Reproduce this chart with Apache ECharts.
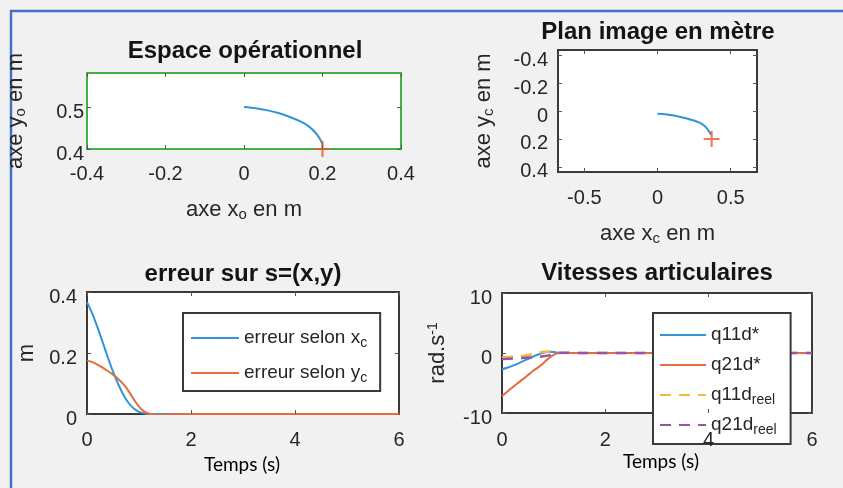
<!DOCTYPE html>
<html>
<head>
<meta charset="utf-8">
<script src="https://cdn.jsdelivr.net/npm/echarts@6/dist/echarts.min.js"></script>
<style>
html,body{margin:0;padding:0;background:#f1f1f1;}
#c{width:843px;height:488px;}
</style>
</head>
<body>
<div id="c"></div>
<script>
// ---------------- data ----------------
// Espace opérationnel : trajectory (x_o, y_o) and target
const xo = [0, 0.03, 0.06, 0.09, 0.12, 0.145, 0.165, 0.18, 0.19, 0.197, 0.2];
const yo = [0.5, 0.497, 0.492, 0.485, 0.475, 0.465, 0.454, 0.441, 0.429, 0.418, 0.41];
const targetO = [0.2, 0.4];
// Plan image en mètre : trajectory (x_c, y_c) and target
const xc = [0, 0.05, 0.1, 0.15, 0.2, 0.25, 0.29, 0.32, 0.34, 0.355, 0.365];
const yc = [0.02, 0.024, 0.031, 0.041, 0.053, 0.068, 0.085, 0.105, 0.127, 0.15, 0.17];
const targetC = [0.37, 0.2];
// time (s)
const t = [0, 0.1, 0.2, 0.3, 0.4, 0.5, 0.6, 0.7, 0.8, 0.9, 1.0, 1.1, 1.2, 1.3, 1.4, 1.5, 2, 3, 4, 5, 6];
// erreur sur s=(x,y)
const errX = [0.367, 0.33, 0.285, 0.236, 0.186, 0.139, 0.098, 0.063, 0.036, 0.018, 0.007, 0.002, 0, 0, 0, 0, 0, 0, 0, 0, 0];
const errY = [0.175, 0.170, 0.162, 0.152, 0.141, 0.129, 0.115, 0.098, 0.075, 0.048, 0.024, 0.008, 0.001, -0.002, -0.003, -0.002, 0, 0, 0, 0, 0];
// Vitesses articulaires
const q11dStar = [-2.7, -2.45, -2.15, -1.8, -1.4, -1.0, -0.6, -0.25, 0.05, 0.2, 0.15, 0.05, 0, 0, 0, 0, 0, 0, 0, 0, 0];
const q21dStar = [-7.2, -6.45, -5.75, -5.05, -4.4, -3.7, -3.0, -2.4, -1.7, -0.9, -0.3, 0, 0, 0, 0, 0, 0, 0, 0, 0, 0];
const q11dReel = [-0.7, -0.68, -0.64, -0.58, -0.48, -0.35, -0.18, 0.03, 0.2, 0.25, 0.2, 0.1, 0.05, 0.02, 0, 0, 0, 0, 0, 0, 0];
const q21dReel = [-1.0, -0.97, -0.93, -0.88, -0.82, -0.77, -0.72, -0.66, -0.56, -0.4, -0.15, 0, 0.05, 0.05, 0, 0, 0, 0, 0, 0, 0];
// tick labels
const ticksXo = [-0.4, -0.2, 0, 0.2, 0.4];
const ticksYo = [0.4, 0.5];
const ticksXc = [-0.5, 0, 0.5];
const ticksYc = [-0.4, -0.2, 0, 0.2, 0.4];
const ticksT = [0, 2, 4, 6];
const ticksErr = [0, 0.2, 0.4];
const ticksVel = [-10, 0, 10];
// texts
const titles = ['Espace opérationnel', 'Plan image en mètre', 'erreur sur s=(x,y)', 'Vitesses articulaires'];
const legendText = {
  'erreur selon xc': '{m|erreur selon x}{s|c}',
  'erreur selon yc': '{m|erreur selon y}{s|c}',
  'q11d*': '{m|q11d*}{s| }',
  'q21d*': '{m|q21d*}{s| }',
  'q11d_reel': '{m|q11d}{s|reel}',
  'q21d_reel': '{m|q21d}{s|reel}'
};

// ---------------- styles ----------------
const FONT = '"Liberation Sans", Arial, Helvetica, sans-serif';
const TXT = '#262626';
const COL = {blue: '#3094da', orange: '#e46c3d', yellow: '#efbc3a', purple: '#9a52ae', red: '#e8572c'};
const PLUS = 'path://M6.5,0H8.5V6.5H15V8.5H8.5V15H6.5V8.5H0V6.5H6.5Z';

const nameRich = {
  m: {fontSize: 22, lineHeight: 24, verticalAlign: 'middle', color: TXT, fontFamily: FONT},
  s: {fontSize: 15, lineHeight: 15, padding: [22, 0, 0, 0], verticalAlign: 'bottom', color: TXT, fontFamily: FONT},
  p: {fontSize: 14, lineHeight: 14, padding: [0, 0, 14, 0], verticalAlign: 'top', color: TXT, fontFamily: FONT}
};
const legendRich = {
  m: {fontSize: 19, lineHeight: 24, verticalAlign: 'middle', color: TXT, fontFamily: FONT},
  s: {fontSize: 14, lineHeight: 14, padding: [17, 0, 0, 0], verticalAlign: 'bottom', color: TXT, fontFamily: FONT}
};

function tickStyle(ticks) {
  return {show: true, inside: true, length: 4, customValues: ticks, lineStyle: {color: '#555', width: 1}};
}
function mainAxis(kind, grid, min, max, ticks, margin, extra) {
  const label = {customValues: ticks, fontSize: 20, color: TXT, fontFamily: FONT, margin: margin};
  if (kind === 'y') { label.verticalAlign = 'top'; label.lineHeight = 10; }
  return Object.assign({
    type: 'value', gridIndex: grid, min: min, max: max,
    position: kind === 'x' ? 'bottom' : 'left',
    splitLine: {show: false},
    axisLine: {show: false, onZero: false},
    axisTick: tickStyle(ticks),
    axisLabel: label,
    nameLocation: 'middle',
    nameTextStyle: {rich: nameRich},
    z: 5
  }, extra || {});
}
function mirrorAxis(kind, grid, min, max, ticks, extra) {
  return Object.assign({
    type: 'value', gridIndex: grid, min: min, max: max,
    position: kind === 'x' ? 'top' : 'right',
    splitLine: {show: false},
    axisLine: {show: false, onZero: false},
    axisTick: tickStyle(ticks),
    axisLabel: {show: false}
  }, extra || {});
}
function zip(a, b) { return a.map((v, i) => [v, b[i]]); }
function lineSeries(name, xi, xs, ys, color, dashed) {
  return {
    name: name, type: 'line', xAxisIndex: xi, yAxisIndex: xi,
    data: zip(xs, ys), symbol: 'none', smooth: 0.3,
    lineStyle: {color: color, width: dashed ? 2.5 : 2, type: dashed ? [11, 8] : 'solid'},
    itemStyle: {color: color}, z: 3
  };
}
function titleItem(text, x, y) {
  return {
    text: text, left: x, top: y, textAlign: 'center', textVerticalAlign: 'middle', padding: 0,
    textStyle: {fontSize: 24, fontWeight: 'bold', color: '#141414', fontFamily: FONT}
  };
}
function legendItem(names, left, top, padding, gap, width) {
  return {
    data: names, orient: 'vertical', left: left, top: top,
    itemWidth: width, itemHeight: 14, itemGap: gap, padding: padding,
    backgroundColor: '#ffffff', borderColor: '#3a3a3a', borderWidth: 2, borderRadius: 0,
    selectedMode: false, formatter: n => legendText[n],
    itemStyle: {opacity: 0},
    textStyle: {fontSize: 19, color: TXT, fontFamily: FONT, rich: legendRich}
  };
}
const gridBase = {show: true, backgroundColor: '#ffffff', borderColor: '#3a3a3a', borderWidth: 2, containLabel: false, outerBoundsMode: 'none'};

const option = {
  backgroundColor: '#f1f1f1',
  animation: false,
  title: [
    titleItem(titles[0], 245, 51),
    titleItem(titles[1], 658, 32),
    titleItem(titles[2], 243, 274),
    titleItem(titles[3], 657, 273)
  ],
  grid: [
    Object.assign({}, gridBase, {left: 87, top: 73, width: 314, height: 76, borderColor: '#45b145'}),
    Object.assign({}, gridBase, {left: 558, top: 50, width: 199, height: 122}),
    Object.assign({}, gridBase, {left: 87, top: 292, width: 312, height: 122}),
    Object.assign({}, gridBase, {left: 502, top: 293, width: 310, height: 120})
  ],
  xAxis: [
    mainAxis('x', 0, -0.4, 0.4, ticksXo, 15, {name: '{m|axe x}{s|o}{m| en m}', nameGap: 39}),
    mirrorAxis('x', 0, -0.4, 0.4, ticksXo),
    mainAxis('x', 1, -0.68, 0.68, ticksXc, 16, {name: '{m|axe x}{s|c}{m| en m}', nameGap: 36}),
    mirrorAxis('x', 1, -0.68, 0.68, ticksXc),
    mainAxis('x', 2, 0, 6, ticksT, 16),
    mirrorAxis('x', 2, 0, 6, ticksT),
    mainAxis('x', 3, 0, 6, ticksT, 17),
    mirrorAxis('x', 3, 0, 6, ticksT)
  ],
  yAxis: [
    mainAxis('y', 0, 0.4, 0.581, ticksYo, 3, {name: '{m|axe y}{s|o}{m| en m}', nameGap: 59}),
    mirrorAxis('y', 0, 0.4, 0.581, ticksYo),
    mainAxis('y', 1, -0.436, 0.436, ticksYc, 10, {inverse: true, name: '{m|axe y}{s|c}{m| en m}', nameGap: 62}),
    mirrorAxis('y', 1, -0.436, 0.436, ticksYc, {inverse: true}),
    mainAxis('y', 2, 0, 0.4, ticksErr, 10, {name: '{m|m}', nameGap: 48}),
    mirrorAxis('y', 2, 0, 0.4, ticksErr),
    mainAxis('y', 3, -10, 10, ticksVel, 10, {name: '{m|rad.s}{p|-1}', nameGap: 52}),
    mirrorAxis('y', 3, -10, 10, ticksVel)
  ],
  legend: [
    legendItem(['erreur selon xc', 'erreur selon yc'], 183, 313, [6, 13, 6, 7], 4, 48),
    legendItem(['q11d*', 'q21d*', 'q11d_reel', 'q21d_reel'], 653, 313, [3, 14, 7, 6], -1, 46)
  ],
  series: [
    lineSeries('trajectoire o', 0, xo, yo, COL.blue, false),
    {name: 'cible o', type: 'scatter', xAxisIndex: 0, yAxisIndex: 0, data: [targetO], symbol: PLUS, symbolSize: 16, itemStyle: {color: COL.red}, z: 4},
    lineSeries('trajectoire c', 2, xc, yc, COL.blue, false),
    {name: 'cible c', type: 'scatter', xAxisIndex: 2, yAxisIndex: 2, data: [targetC], symbol: PLUS, symbolSize: 16, itemStyle: {color: COL.red}, z: 4},
    lineSeries('erreur selon xc', 4, t, errX, COL.blue, false),
    lineSeries('erreur selon yc', 4, t, errY, COL.orange, false),
    lineSeries('q11d*', 6, t, q11dStar, COL.blue, false),
    lineSeries('q21d*', 6, t, q21dStar, COL.orange, false),
    lineSeries('q11d_reel', 6, t, q11dReel, COL.yellow, true),
    lineSeries('q21d_reel', 6, t, q21dReel, COL.purple, true)
  ],
  graphic: [
    {type: 'line', shape: {x1: 10, y1: 11, x2: 843, y2: 11}, style: {stroke: '#4472c4', lineWidth: 2.5}, silent: true, z: -1},
    {type: 'line', shape: {x1: 11, y1: 10, x2: 11, y2: 488}, style: {stroke: '#4472c4', lineWidth: 2.5}, silent: true, z: -1},
    {type: 'text', x: 242, y: 465, style: {text: 'Temps (s)', fontSize: 19, fontFamily: 'Lato, "Open Sans", sans-serif', fill: '#000', align: 'center', verticalAlign: 'middle'}, z: 10},
    {type: 'text', x: 661, y: 462, style: {text: 'Temps (s)', fontSize: 19, fontFamily: 'Lato, "Open Sans", sans-serif', fill: '#000', align: 'center', verticalAlign: 'middle'}, z: 10}
  ]
};

const chart = echarts.init(document.getElementById('c'), null, {renderer: 'canvas'});
chart.setOption(option);
</script>
</body>
</html>
